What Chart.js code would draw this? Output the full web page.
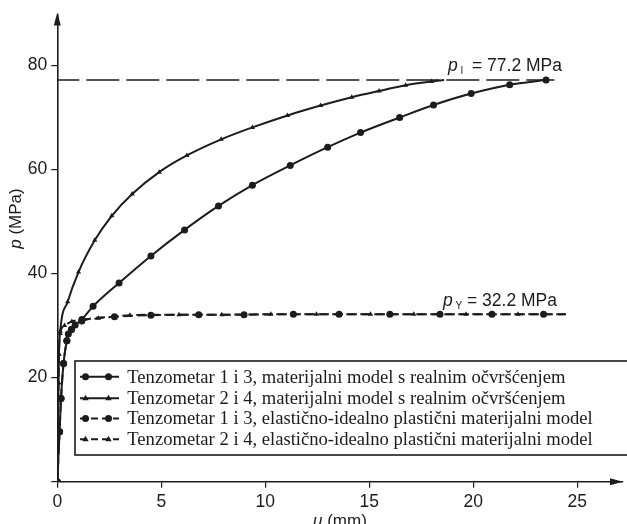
<!DOCTYPE html>
<html>
<head>
<meta charset="utf-8">
<script src="https://cdn.jsdelivr.net/npm/chart.js@4/dist/chart.umd.min.js"></script>
<style>
html,body{margin:0;padding:0;background:#fff;overflow:hidden;}
#wrap{width:627px;height:524px;position:relative;}
</style>
</head>
<body>
<div id="wrap"><canvas id="c" width="627" height="524"></canvas></div>
<script>
// ---- data (u in mm, p in MPa) ----
const s1U = [0, 0.11, 0.18, 0.30, 0.46, 0.68, 1.18, 1.72, 2.97, 4.50, 6.12, 7.75, 9.38, 11.20, 13.00, 14.58, 16.46, 18.09, 19.90, 21.75, 23.50];
const s1P = [0, 9.6, 16.0, 22.7, 27.1, 29.3, 31.2, 33.7, 38.2, 43.4, 48.4, 53.0, 57.0, 60.8, 64.3, 67.1, 70.0, 72.4, 74.6, 76.3, 77.2];

const s2U = [0, 0.03, 0.06, 0.08, 0.14, 0.50, 1.02, 1.80, 2.62, 3.60, 4.90, 6.23, 7.88, 9.38, 11.07, 12.66, 14.16, 15.47, 16.75, 17.99, 18.60];
const s2P = [0, 10.0, 19.0, 24.5, 28.9, 34.6, 40.3, 46.4, 51.1, 55.3, 59.5, 62.7, 65.8, 68.1, 70.4, 72.3, 73.9, 75.1, 76.2, 76.9, 77.2];

const s3U = [0, 0.11, 0.18, 0.30, 0.46, 0.53, 0.68, 0.86, 1.18, 2.75, 4.50, 6.80, 8.98, 11.35, 13.55, 15.99, 18.40, 20.90, 23.38, 24.46];
const s3P = [0, 9.6, 16.0, 22.7, 27.1, 28.4, 29.2, 30.1, 30.9, 31.7, 32.0, 32.1, 32.1, 32.2, 32.2, 32.2, 32.2, 32.2, 32.2, 32.2];

const s4U = [0, 0.03, 0.06, 0.08, 0.14, 0.35, 0.70, 1.98, 3.49, 5.85, 7.91, 10.27, 12.46, 15.06, 17.14, 19.65, 22.15, 24.46];
const s4P = [0, 10.0, 19.0, 24.5, 28.5, 30.0, 30.8, 31.4, 32.0, 32.1, 32.1, 32.2, 32.2, 32.2, 32.2, 32.2, 32.2, 32.2];

const plU = [0, 23.9];
const plValue = 77.2;
const pyValue = 32.2;

const seriesLabels = [
  "Tenzometar 1 i 3, materijalni model s realnim očvršćenjem",
  "Tenzometar 2 i 4, materijalni model s realnim očvršćenjem",
  "Tenzometar 1 i 3, elastično-idealno plastični materijalni model",
  "Tenzometar 2 i 4, elastično-idealno plastični materijalni model"
];
const xTicks = [0, 5, 10, 15, 20, 25];
const yTicks = [0, 20, 40, 60, 80];

// ---- build ----
const toPts = (us, ps) => us.map((u, i) => ({x: u, y: ps[i]}));
const INK = '#1c1c1c';
const lastNoPoint = (n, r) => (ctx) => ctx.dataIndex === n - 1 ? 0 : r;

const datasets = [
  {label: seriesLabels[0], data: toPts(s1U, s1P), pointStyle: 'circle', pointRadius: 3.5, borderDash: []},
  {label: seriesLabels[1], data: toPts(s2U, s2P), pointStyle: 'triangle', pointRadius: lastNoPoint(s2U.length, 3), borderDash: []},
  {label: seriesLabels[2], data: toPts(s3U, s3P), pointStyle: 'circle', pointRadius: lastNoPoint(s3U.length, 3.5), borderDash: [9, 5]},
  {label: seriesLabels[3], data: toPts(s4U, s4P), pointStyle: 'triangle', pointRadius: lastNoPoint(s4U.length, 3), borderDash: [9, 5], borderDashOffset: 7},
].map(d => Object.assign({
  showLine: true, borderColor: INK, backgroundColor: INK, pointBackgroundColor: INK,
  pointBorderColor: INK, pointBorderWidth: 0, borderWidth: 2, cubicInterpolationMode: 'monotone'
}, d));

datasets.unshift({
  label: 'pI', data: plU.map(u => ({x: u, y: plValue})), showLine: true, borderColor: INK,
  borderWidth: 1.5, borderDash: [33, 7], borderDashOffset: 11, pointRadius: 0
});

const overlay = {
  id: 'overlay',
  afterDraw(chart) {
    const ctx = chart.ctx;
    const ca = chart.chartArea;
    ctx.save();
    ctx.fillStyle = INK;
    // arrows
    ctx.beginPath();
    ctx.moveTo(ca.left, ca.top - 2);
    ctx.lineTo(ca.left - 3.5, ca.top + 11);
    ctx.lineTo(ca.left + 3.5, ca.top + 11);
    ctx.closePath(); ctx.fill();
    ctx.beginPath();
    ctx.moveTo(ca.right, ca.bottom);
    ctx.lineTo(ca.right - 13, ca.bottom - 3.5);
    ctx.lineTo(ca.right - 13, ca.bottom + 3.5);
    ctx.closePath(); ctx.fill();

    // annotations
    const ann = (val, sub, px, ybase) => {
      ctx.textBaseline = 'alphabetic';
      ctx.textAlign = 'left';
      ctx.font = 'italic 17.5px "Liberation Sans", Arial, sans-serif';
      ctx.fillText('p', px, ybase);
      ctx.font = '10px "Liberation Sans", Arial, sans-serif';
      ctx.fillText(sub, px + 12.5, ybase + 3);
      ctx.font = '17.5px "Liberation Sans", Arial, sans-serif';
      ctx.fillText('= ' + val.toFixed(1) + ' MPa', px + 24, ybase);
    };
    ann(plValue, 'I', 448, 70.5);
    ann(pyValue, 'Y', 443, 306);

    // axis titles
    ctx.font = 'italic 17px "Liberation Sans", Arial, sans-serif';
    ctx.textBaseline = 'middle';
    ctx.textAlign = 'left';
    ctx.fillText('u', 313, 521);
    const uw = ctx.measureText('u').width;
    ctx.font = '17px "Liberation Sans", Arial, sans-serif';
    ctx.fillText(' (mm)', 313 + uw, 521);

    ctx.save();
    ctx.translate(16.5, 218.5);
    ctx.rotate(-Math.PI / 2);
    ctx.font = 'italic 17px "Liberation Sans", Arial, sans-serif';
    const pw = ctx.measureText('p').width;
    ctx.font = '17px "Liberation Sans", Arial, sans-serif';
    const rw = ctx.measureText(' (MPa)').width;
    const start = -(pw + rw) / 2;
    ctx.font = 'italic 17px "Liberation Sans", Arial, sans-serif';
    ctx.fillText('p', start, 0);
    ctx.font = '17px "Liberation Sans", Arial, sans-serif';
    ctx.fillText(' (MPa)', start + pw, 0);
    ctx.restore();

    // legend
    const bx = 75, by = 361, bh = 94;
    ctx.fillStyle = '#fff';
    ctx.fillRect(bx, by, 640 - bx, bh);
    ctx.strokeStyle = INK;
    ctx.lineWidth = 1.6;
    ctx.strokeRect(bx, by, 640 - bx, bh);
    const rows = [376.7, 398.3, 418.6, 439.3];
    const dsets = chart.data.datasets.slice(1);
    rows.forEach((ry, i) => {
      const d = dsets[i];
      ctx.strokeStyle = INK;
      ctx.lineWidth = 2;
      ctx.setLineDash(i >= 2 ? [7, 4] : []);
      ctx.beginPath();
      ctx.moveTo(80, ry); ctx.lineTo(119, ry);
      ctx.stroke();
      ctx.setLineDash([]);
      ctx.fillStyle = INK;
      [85.5, 108.5].forEach(mx => {
        if (d.pointStyle === 'circle') {
          ctx.beginPath(); ctx.arc(mx, ry, 3.5, 0, Math.PI * 2); ctx.fill();
        } else {
          ctx.beginPath();
          ctx.moveTo(mx, ry - 3.5); ctx.lineTo(mx - 3.2, ry + 2); ctx.lineTo(mx + 3.2, ry + 2);
          ctx.closePath(); ctx.fill();
        }
      });
      ctx.font = '18.6px "Liberation Serif", "Times New Roman", serif';
      ctx.textBaseline = 'middle';
      ctx.textAlign = 'left';
      ctx.fillText(d.label, 127.3, ry + 1);
    });
    ctx.restore();
  }
};

const tickFont = {family: '"Liberation Sans", Arial, sans-serif', size: 17.5};

new Chart(document.getElementById('c'), {
  type: 'scatter',
  data: {datasets},
  options: {
    responsive: false,
    animation: false,
    layout: {padding: {top: 10, right: 0, left: 0, bottom: 0}},
    plugins: {legend: {display: false}, tooltip: {enabled: false}},
    scales: {
      x: {
        type: 'linear', min: 0, max: 27.2,
        afterBuildTicks: (s) => { s.ticks = xTicks.map(v => ({value: v})); },
        ticks: {font: tickFont, color: INK, padding: 4, maxRotation: 0, autoSkip: false,
                callback: v => String(v)},
        grid: {display: true, drawOnChartArea: false, drawTicks: true, tickLength: 6, color: INK, lineWidth: 1.2},
        border: {display: true, color: INK, width: 1.6},
        afterFit: (s) => { s.height = 42.3; }
      },
      y: {
        type: 'linear', min: 0, max: 89.8,
        afterBuildTicks: (s) => { s.ticks = yTicks.map(v => ({value: v})); },
        ticks: {font: tickFont, color: INK, padding: 4, autoSkip: false,
                callback: v => v === 0 ? '' : String(v)},
        grid: {display: true, drawOnChartArea: false, drawTicks: true, tickLength: 6, color: INK, lineWidth: 1.2},
        border: {display: true, color: INK, width: 1.6},
        afterFit: (s) => { s.width = 57.3; }
      }
    }
  },
  plugins: [overlay]
});
</script>
</body>
</html>
